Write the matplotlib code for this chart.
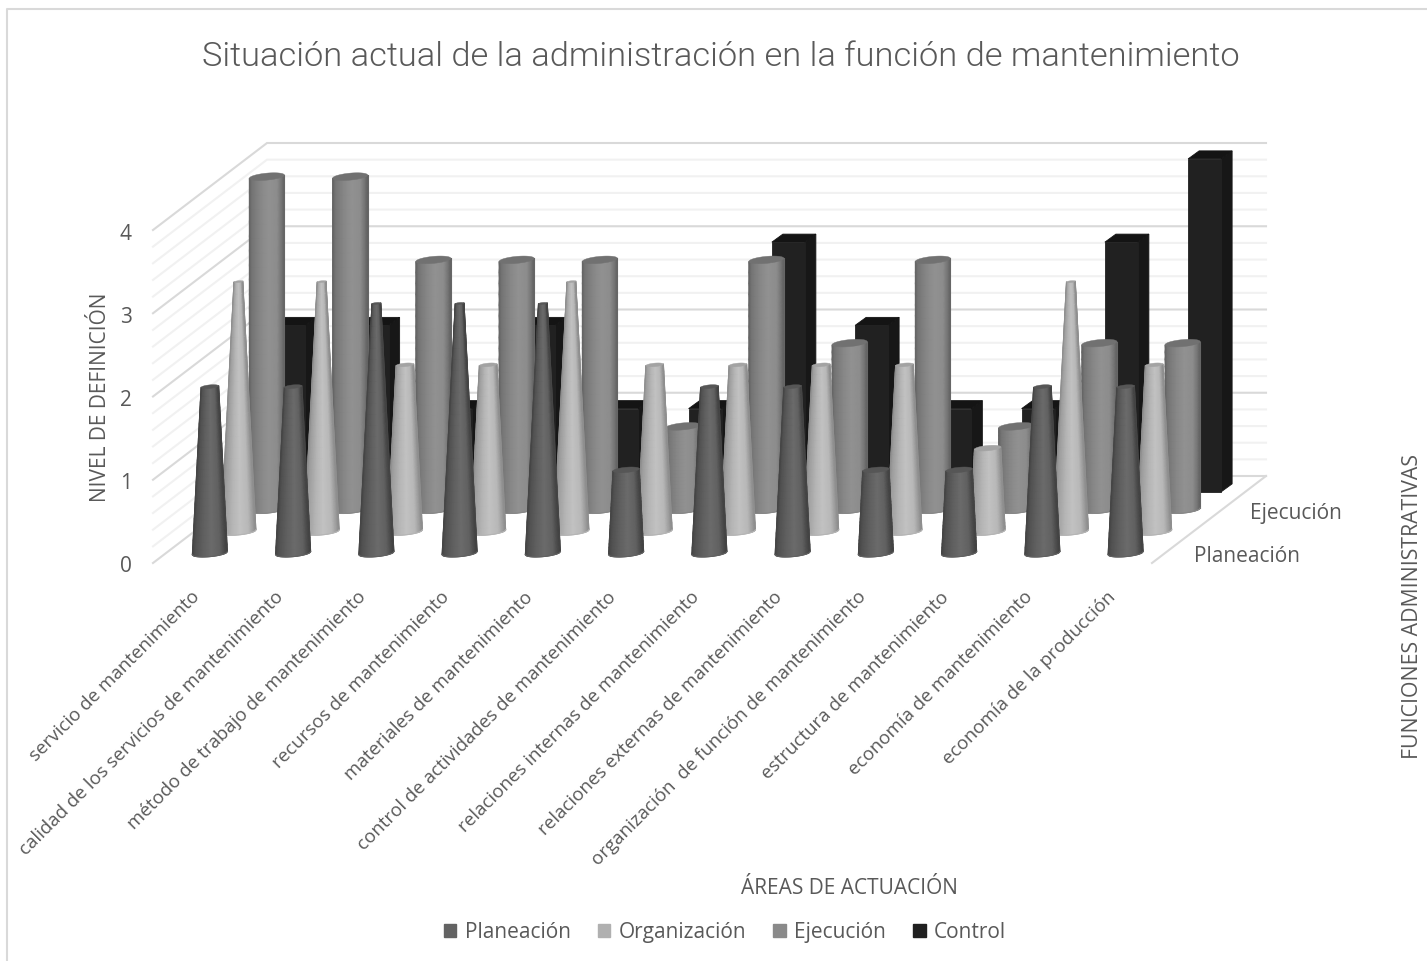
import numpy as np
import matplotlib
matplotlib.use("Agg")
import matplotlib.pyplot as plt
from matplotlib.patches import Patch

plt.rcParams['font.family'] = ['Open Sans', 'DejaVu Sans']

categorias = ['servicio de mantenimiento',
              'calidad de los servicios de mantenimiento',
              'método de trabajo de mantenimiento',
              'recursos de mantenimiento',
              'materiales de mantenimiento',
              'control de actividades de mantenimiento',
              'relaciones internas de mantenimiento',
              'relaciones externas de mantenimiento',
              'organización  de función de mantenimiento',
              'estructura de mantenimiento',
              'economía de mantenimiento',
              'economía de la producción']
series = ['Planeación', 'Organización', 'Ejecución', 'Control']
planeacion = [2, 2, 3, 3, 3, 1, 2, 2, 1, 1, 2, 2]
organizacion = [3, 3, 2, 2, 3, 2, 2, 2, 2, 1, 3, 2]
ejecucion = [4, 4, 3, 3, 3, 1, 3, 2, 3, 1, 2, 2]
control = [2, 2, 1, 2, 1, 1, 3, 2, 1, 1, 3, 4]
y_ticks = [0, 1, 2, 3, 4]

W, H = 1427, 962
PX = 83.25          # pixels per category and per level
X0, Y0 = 153, 564   # front left corner of the floor
DX = 114 / 4 / PX   # shift of one depth row
DY = 87 / 4 / PX
NUDGE = 1 / PX      # marks sit about a pixel off the grid
TEXT = '#595959'

fig = plt.figure(figsize=(W / 100, H / 100), dpi=100)
ax = fig.add_axes([0, 0, 1, 1])
ax.axis('off')


def fx(px):
    return px / W


def fy(py):
    return 1 - py / H


def project(cat, row, val):
    return cat + row * DX, val + row * DY


# walls and floor
n_cat = len(categorias)
for level in np.arange(0, 4.01, 0.2):
    major = abs(level - round(level)) < 1e-6
    color = '#d9d9d9' if major else '#f1f1f1'
    x1, y1 = project(0, 0, level)
    x2, y2 = project(0, 4, level)
    x3, y3 = project(n_cat, 4, level)
    ax.plot([x1, x2, x3], [y1, y2, y3], color=color, lw=1.5, zorder=1 + major,
            solid_joinstyle='miter')
x1, y1 = project(n_cat, 0, 0)
x2, y2 = project(n_cat, 4, 0)
ax.plot([x1, x2], [y1, y2], color='#d9d9d9', lw=1.5, zorder=2)

z = 10
R = 17.5 / PX
ELL = 0.2
TILT = 0.09
SHADE_U = [-1, -0.82, -0.35, 0.1, 0.6, 0.85, 1]


def draw_round(cat, row, val, stops, cap, taper):
    global z
    cx, cy = project(cat + 0.5, row + 0.5, 0)
    cx += NUDGE
    cy -= NUDGE
    top = cy + val
    r = R * (1 - val / 4) if taper else R

    # mesh on the surface, so the shading narrows with the cone
    u = np.linspace(-1, 1, 41)
    f = np.linspace(0, 1, 24)
    uu, ff = np.meshgrid(u, f)
    width = R + (r - R) * ff
    xx = cx + uu * width
    yy = cy + val * ff + width * (TILT * uu - ELL * np.sqrt(1 - uu ** 2))
    ax.pcolormesh(xx, yy, np.interp(uu, SHADE_U, stops), shading='gouraud',
                  cmap='gray', vmin=0, vmax=1, zorder=z)
    # smooth the silhouette
    edge = plt.cm.gray(stops[0])
    ax.plot(xx[:, 0], yy[:, 0], color=edge, lw=0.8, zorder=z + 0.2)
    ax.plot(xx[:, -1], yy[:, -1], color=edge, lw=0.8, zorder=z + 0.2)
    ax.plot(xx[0], yy[0], color=plt.cm.gray(stops[2]), lw=0.8, zorder=z + 0.2)

    t = np.linspace(0, 2 * np.pi, 60)
    ax.fill(cx + r * np.cos(t), top + r * ELL * np.sin(t) + r * TILT * np.cos(t),
            color=cap, lw=0.3, zorder=z + 0.5)
    z += 1


def draw_box(cat, row, val):
    global z
    cx, cy = project(cat + 0.5, row + 0.5, 0)
    w = 33 / PX
    dx = 11 / PX
    dy = 8 / PX
    left = cx - 22 / PX
    right = left + w
    b = cy - dy / 2 - NUDGE
    t = b + val
    ax.fill([right, right + dx, right + dx, right], [b, b + dy, t + dy, t],
            fc='#171717', ec='#171717', lw=0.6, zorder=z)
    ax.fill([left, right, right + dx, left + dx], [t, t, t + dy, t + dy],
            fc='#141414', ec='#141414', lw=0.6, zorder=z)
    ax.fill([left, right, right, left], [b, b, t, t], fc='#212121', ec='#212121',
            lw=0.6, zorder=z + 0.5)
    z += 1


claro = [0.56, 0.62, 0.71, 0.76, 0.72, 0.62, 0.54]
medio = [0.40, 0.46, 0.53, 0.57, 0.55, 0.46, 0.38]
oscuro = [0.27, 0.32, 0.38, 0.42, 0.38, 0.30, 0.25]

for i in range(n_cat):
    draw_box(i, 3, control[i])
for i in range(n_cat):
    draw_round(i, 2, ejecucion[i], medio, '#717171', False)
for i in range(n_cat):
    draw_round(i, 1, organizacion[i], claro, '#a3a3a3', True)
for i in range(n_cat):
    draw_round(i, 0, planeacion[i], oscuro, '#565656', True)

ax.set_xlim(-X0 / PX, (W - X0) / PX)
ax.set_ylim((Y0 - H) / PX, Y0 / PX)

# texts
fig.text(fx(721), fy(57), 'Situación actual de la administración en la función de mantenimiento',
         fontsize=24.75, family='Roboto', weight=300, color=TEXT, ha='center', va='center')

for v in y_ticks:
    ax.text(-27 / PX, v - 3 / PX, str(v), fontsize=15, color=TEXT, ha='center', va='center')

for i, name in enumerate(categorias):
    ax.text(i + 0.5 - 4 / PX, -24 / PX, name, fontsize=13.5, color=TEXT, rotation=45,
            ha='right', va='top', rotation_mode='anchor')

fig.text(fx(1250), fy(513), 'Ejecución', fontsize=15, color=TEXT, ha='left', va='center')
fig.text(fx(1194), fy(557), 'Planeación', fontsize=15, color=TEXT, ha='left', va='center')

fig.text(fx(100), fy(397), 'NIVEL DE DEFINICIÓN', fontsize=15, color=TEXT, rotation=90,
         ha='center', va='center')
fig.text(fx(1412), fy(607), 'FUNCIONES ADMINISTRATIVAS', fontsize=15.3, color=TEXT, rotation=90,
         ha='center', va='center')
fig.text(fx(849), fy(888), 'ÁREAS DE ACTUACIÓN', fontsize=15, color=TEXT, ha='center', va='center')

colores = ['#636363', '#b0b0b0', '#8a8a8a', '#202020']
handles = [Patch(color=c, label=s) for c, s in zip(colores, series)]
fig.legend(handles=handles, loc='center', bbox_to_anchor=(fx(725), fy(933)), ncol=4,
           frameon=False, fontsize=15, labelcolor=TEXT, handlelength=0.6, handleheight=0.6,
           handletextpad=0.4, columnspacing=1.3)

# chart frame
fig.add_artist(plt.Line2D([fx(7), fx(7), fx(1427)], [0, fy(10), fy(10)], color='#d9d9d9', lw=1.5))

fig.savefig('out.png', dpi=100)
